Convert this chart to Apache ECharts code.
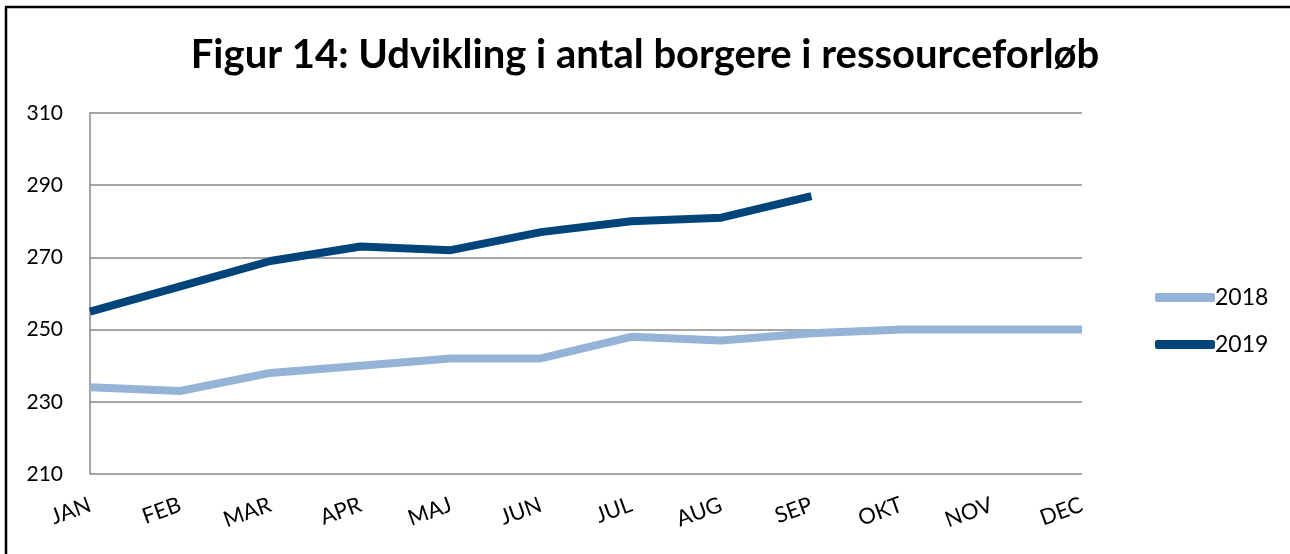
<!DOCTYPE html>
<html>
<head>
<meta charset="utf-8">
<script src="https://cdn.jsdelivr.net/npm/echarts@6/dist/echarts.min.js"></script>
<style>
html,body{margin:0;padding:0;background:#fff;}
#c{width:1290px;height:554px;}
</style>
</head>
<body>
<div id="c"></div>
<script>
var categories = ['JAN','FEB','MAR','APR','MAJ','JUN','JUL','AUG','SEP','OKT','NOV','DEC'];
var series2018 = [234, 233, 238, 240, 242, 242, 248, 247, 249, 250, 250, 250];
var series2019 = [255, 262, 269, 273, 272, 277, 280, 281, 287];
var yTicks = [210, 230, 250, 270, 290, 310];

var FONT = 'Lato, "Open Sans", sans-serif';
var chart = echarts.init(document.getElementById('c'));
chart.setOption({
  backgroundColor: '#fff',
  animation: false,
  title: {
    text: 'Figur 14: Udvikling i antal borgere i ressourceforløb',
    left: 'center',
    top: 30,
    textStyle: { fontFamily: FONT, fontWeight: 'bold', fontSize: 40, color: '#000' }
  },
  graphic: [
    { type: 'line', shape: { x1: 6, y1: 7, x2: 6, y2: 554 }, style: { stroke: '#000', lineWidth: 2.5 } },
    { type: 'line', shape: { x1: 5, y1: 7, x2: 1290, y2: 7 }, style: { stroke: '#000', lineWidth: 2.5 } }
  ],
  legend: {
    orient: 'vertical',
    left: 1150,
    top: 281,
    itemGap: 24,
    itemWidth: 60,
    itemHeight: 9,
    icon: 'roundRect',
    textStyle: { fontFamily: FONT, fontSize: 23, color: '#000', padding: [0, 0, 0, -5] },
    data: ['2018', '2019']
  },
  grid: { left: 90, right: 208, top: 113, bottom: 80, containLabel: false },
  xAxis: {
    type: 'category',
    data: categories,
    boundaryGap: false,
    axisLine: { show: false },
    axisTick: { show: false },
    axisLabel: { rotate: 20, margin: 30, fontFamily: FONT, fontSize: 22, color: '#000', interval: 0 },
    splitLine: { show: false }
  },
  yAxis: {
    type: 'value',
    min: yTicks[0],
    max: yTicks[yTicks.length - 1],
    interval: 20,
    axisLine: { show: true, lineStyle: { color: '#888', width: 1.5 } },
    axisTick: { show: false },
    axisLabel: { margin: 27, fontFamily: FONT, fontSize: 21, color: '#000' },
    splitLine: { lineStyle: { color: '#888', width: 1.5 } }
  },
  series: [
    {
      name: '2018', type: 'line', data: series2018, symbol: 'none',
      lineStyle: { color: '#95B3D7', width: 8 }, itemStyle: { color: '#95B3D7' }
    },
    {
      name: '2019', type: 'line', data: series2019, symbol: 'none',
      lineStyle: { color: '#00457A', width: 8 }, itemStyle: { color: '#00457A' }
    }
  ]
});
</script>
</body>
</html>
